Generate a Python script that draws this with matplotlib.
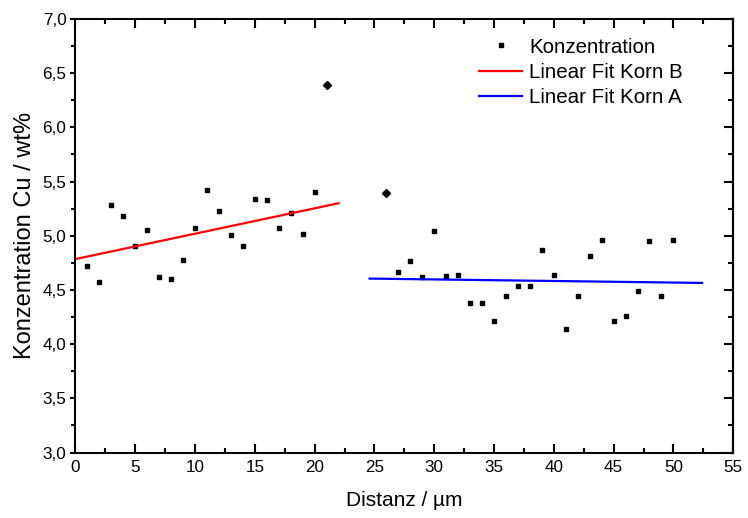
import matplotlib
matplotlib.use("Agg")
import matplotlib.pyplot as plt
from matplotlib.ticker import MultipleLocator, FuncFormatter

plt.rcParams['font.family'] = ['Liberation Sans', 'DejaVu Sans']

# Data
x_main = [1, 2, 3, 4, 5, 6, 7, 8, 9, 10, 11, 12, 13, 14, 15, 16, 17, 18, 19, 20,
          27, 28, 29, 30, 31, 32, 33, 34, 35, 36, 37, 38, 39, 40, 41, 42, 43, 44,
          45, 46, 47, 48, 49, 50]
y_main = [4.72, 4.57, 5.28, 5.18, 4.91, 5.05, 4.62, 4.60, 4.78, 5.07, 5.42, 5.23,
          5.01, 4.91, 5.34, 5.33, 5.07, 5.21, 5.02, 5.40,
          4.67, 4.77, 4.62, 5.04, 4.63, 4.64, 4.38, 4.38, 4.21, 4.44, 4.54, 4.54,
          4.87, 4.64, 4.14, 4.44, 4.81, 4.96, 4.21, 4.26, 4.49, 4.95, 4.44, 4.96]
x_masked = [21, 26]
y_masked = [6.39, 5.39]

fitB_x = [0, 22]
fitB_y = [4.785, 5.30]
fitA_x = [24.6, 52.4]
fitA_y = [4.605, 4.565]

fig = plt.figure(figsize=(7.48, 5.18), dpi=100)
ax = fig.add_axes([0.1009, 0.1263, 0.8793, 0.8371])

ax.plot(x_main, y_main, linestyle='none', marker='s', markersize=3.3,
        color='black', label='Konzentration')
ax.plot(x_masked, y_masked, linestyle='none', marker='D', markersize=3.6,
        color='black')
ax.plot(fitB_x, fitB_y, color='#ff0000', lw=1.6, label='Linear Fit Korn B')
ax.plot(fitA_x, fitA_y, color='#0000ff', lw=1.6, label='Linear Fit Korn A')

ax.set_xlim(0, 55)
ax.set_ylim(3.0, 7.0)
ax.xaxis.set_major_locator(MultipleLocator(5))
ax.xaxis.set_minor_locator(MultipleLocator(2.5))
ax.yaxis.set_major_locator(MultipleLocator(0.5))
ax.yaxis.set_minor_locator(MultipleLocator(0.25))
ax.yaxis.set_major_formatter(FuncFormatter(lambda v, p: f"{v:.1f}".replace('.', ',')))

for s in ax.spines.values():
    s.set_linewidth(1.5)

ax.tick_params(axis='x', which='both', direction='in', top=True, bottom=True,
               labelsize=12.3, width=1.5, pad=5)
ax.tick_params(axis='x', which='major', length=6.5)
ax.tick_params(axis='x', which='minor', length=3.5)
ax.tick_params(axis='y', which='both', direction='out', left=True, right=False,
               labelsize=12.3, width=1.5, pad=3)
ax.tick_params(axis='y', which='major', length=3.5)
ax.tick_params(axis='y', which='minor', length=3.0)

# right axis ticks pointing inward
axr = ax.secondary_yaxis('right')
axr.yaxis.set_major_locator(MultipleLocator(0.5))
axr.yaxis.set_minor_locator(MultipleLocator(0.25))
axr.tick_params(axis='y', which='both', direction='in', labelright=False, width=1.5)
axr.tick_params(axis='y', which='major', length=6.5)
axr.tick_params(axis='y', which='minor', length=3.5)
axr.spines['right'].set_linewidth(1.5)

ax.set_xlabel('Distanz / µm', fontsize=15, labelpad=12)
ax.set_ylabel('Konzentration Cu / wt%', fontsize=17, labelpad=5)

leg = ax.legend(loc='upper left', bbox_to_anchor=(0.614, 0.957), frameon=False,
                fontsize=14.8, handlelength=2.1, handletextpad=0.33,
                labelspacing=0.3, borderaxespad=0.0, borderpad=0.0)

fig.savefig('out.png', dpi=100)
